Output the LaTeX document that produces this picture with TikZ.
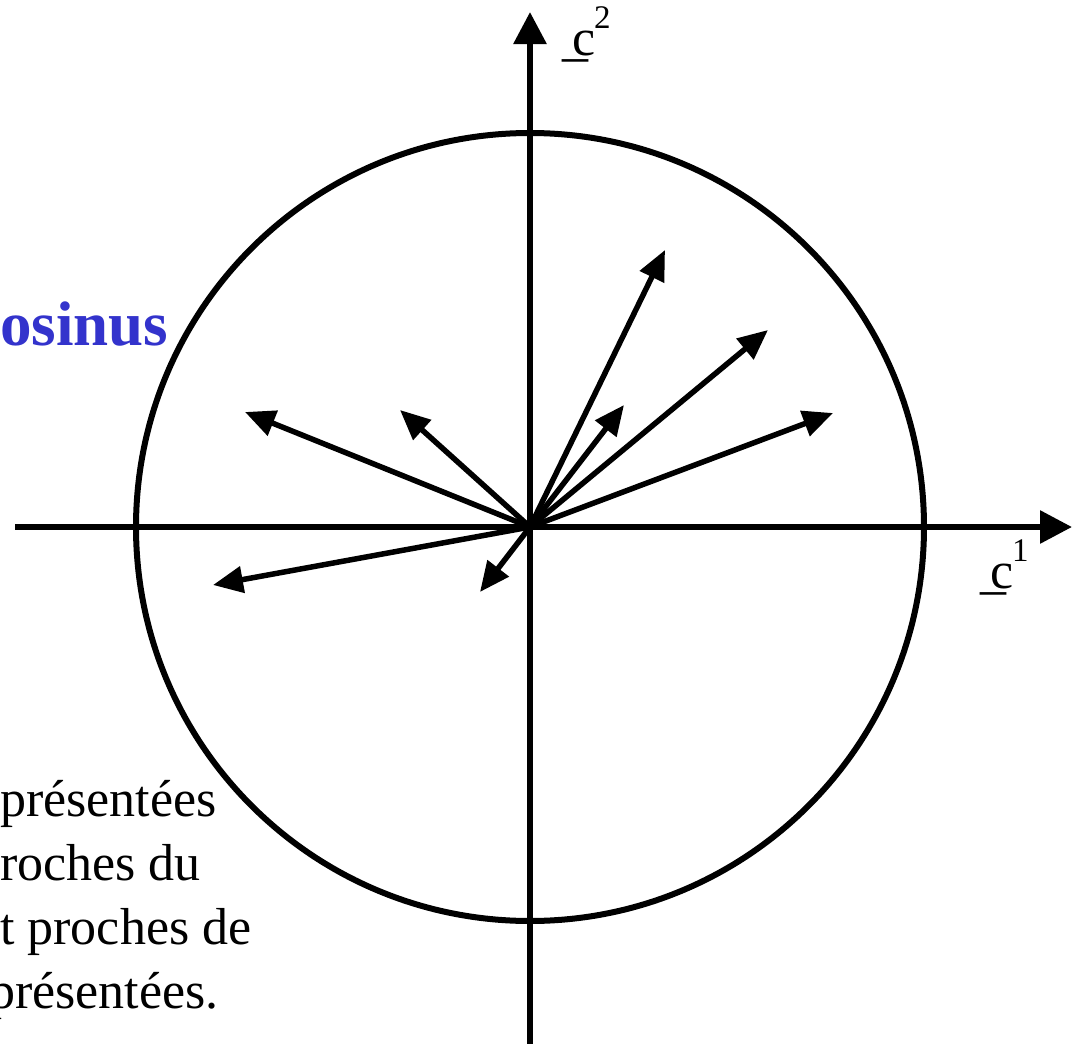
\documentclass[tikz,border=0pt]{standalone}
\usepackage{fontspec}
\setmainfont{Liberation Serif}
\usetikzlibrary{arrows.meta}

\definecolor{titleblue}{RGB}{51,51,204}
\newcommand{\veclabel}[1]{\_\kern-0.31em c\kern-1pt\raisebox{27pt}{\fontsize{33}{33}\selectfont #1}}

\begin{document}
\begin{tikzpicture}[
    x=1pt, y=-1pt,
    axis/.style={line width=6pt, -{Triangle[length=32pt, width=32pt]}},
    vec/.style={line width=5.5pt, -{Triangle[length=30pt, width=26pt]}},
    circ/.style={line width=6pt},
    txt/.style={anchor=base west, inner sep=0pt, font=\fontsize{52}{60}\selectfont},
    title/.style={anchor=base west, inner sep=0pt, text=titleblue, font=\fontsize{63}{70}\selectfont\bfseries},
]
\useasboundingbox (0,0) rectangle (1072,1044);
\clip (0,0) rectangle (1072,1044);

%% NODES
    % origin and axis ends
    \coordinate (O) at (530,527);
    \coordinate (xleft) at (15,527);
    \coordinate (xright) at (1072,527);
    \coordinate (ybottom) at (530,1060);
    \coordinate (ytop) at (530,12);

    % vector tips
    \coordinate (v1) at (665,250);
    \coordinate (v2) at (768,330);
    \coordinate (v3) at (624,405);
    \coordinate (v4) at (833,413);
    \coordinate (v5) at (245,412);
    \coordinate (v6) at (400,410);
    \coordinate (v7) at (213,585);
    \coordinate (v8) at (480,592);

    % labels
    \node[txt] (c2) at (562,55) {\veclabel{2}};
    \node[txt] (c1) at (980,588) {\veclabel{1}};
    \node[title] (cosinus) at (0,345) {osinus};

    % text at the bottom left
    \node[txt] (line1) at (0,816) {présentées};
    \node[txt] (line2) at (0,880) {roches du};
    \node[txt] (line3) at (0,944) {t proches de};
    \node[txt] (line4) at (-11,1008) {présentées.};

%% CONNECTIONS
    % circle of correlations
    \draw[circ] (O) circle[radius=394];

    % axes
    \draw[axis] (xleft) -- (xright);
    \draw[axis] (ybottom) -- (ytop);

    % variables
    \draw[vec] (O) -- (v1);
    \draw[vec] (O) -- (v2);
    \draw[vec] (O) -- (v3);
    \draw[vec] (O) -- (v4);
    \draw[vec] (O) -- (v5);
    \draw[vec] (O) -- (v6);
    \draw[vec] (O) -- (v7);
    \draw[vec] (O) -- (v8);

\end{tikzpicture}
\end{document}
